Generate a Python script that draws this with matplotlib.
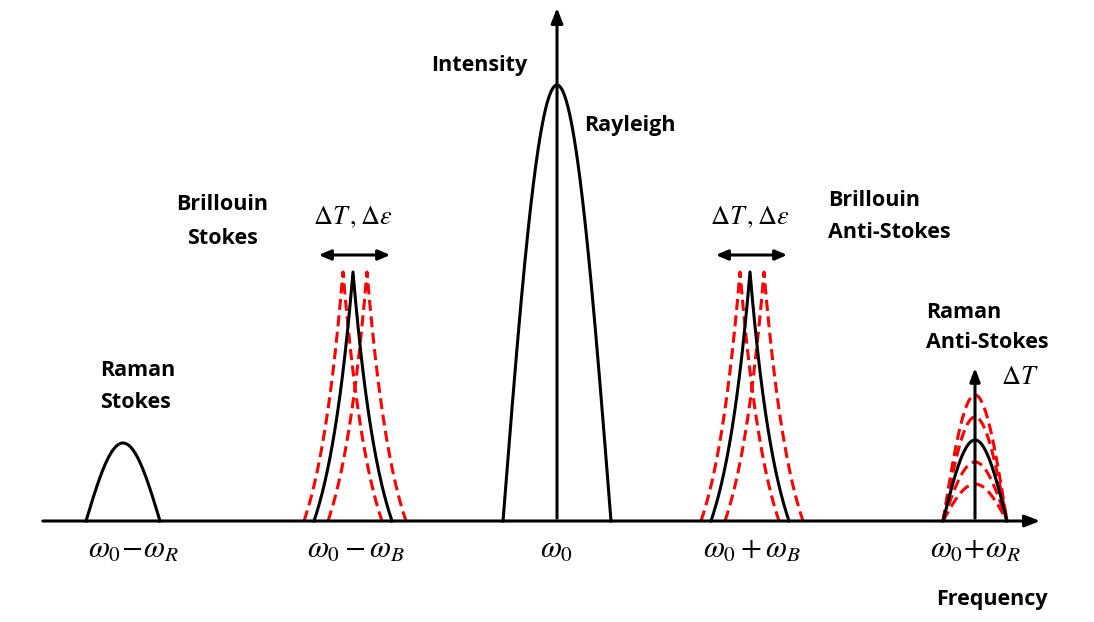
import numpy as np
import matplotlib.pyplot as plt

plt.rcParams['mathtext.fontset'] = 'stix'
plt.rcParams['font.family'] = ['Open Sans', 'DejaVu Sans']

# peak positions (frequency axis, arbitrary units) and intensities
raman_s = dict(c=123, half=37, h=78)
rayleigh = dict(c=557, half=54, h=436)
brill_centers = [353, 750]
brill_shift = [-10, 14]          # red dashed curves, shifted peaks
brill_half = 39
brill_height = 249
raman_as_center = 975
raman_as_half = 32
raman_as_height = 81
raman_as_red = [126, 104, 59, 37]

tick_pos = [133, 356, 557, 752, 975]
tick_labels = [r'$\omega_0\!-\!\omega_R$', r'$\omega_0 - \omega_B$', r'$\omega_0$',
               r'$\omega_0 + \omega_B$', r'$\omega_0\!+\!\omega_R$']


def cos_peak(c, half, h):
    x = np.linspace(c - half, c + half, 200)
    return x, h * np.cos(np.pi / 2 * (x - c) / half)


def cusp_peak(c, half, h, s=0.72):
    x = np.linspace(c - half, c + half, 301)
    u = np.abs(x - c) / half
    f = (np.exp(-u / s) - np.exp(-1 / s)) / (1 - np.exp(-1 / s))
    return x, h * f


fig = plt.figure(figsize=(10.94, 6.22), dpi=100)
ax = fig.add_axes([0, 0, 1, 1])
ax.set_xlim(0, 1094)
ax.set_ylim(-101, 521)
ax.axis('off')

lw = 2.2
dash = (0, (3.6, 1.8))
# axes with arrows
ax.annotate('', xy=(1043, 0), xytext=(40, 0),
            arrowprops=dict(arrowstyle='-|>,head_length=0.9,head_width=0.35', color='black', lw=lw))
ax.annotate('', xy=(557, 516), xytext=(557, 0),
            arrowprops=dict(arrowstyle='-|>,head_length=0.9,head_width=0.35', color='black', lw=lw))

# Raman Stokes
ax.plot(*cos_peak(**raman_s), color='black', lw=lw)
# Rayleigh
ax.plot(*cos_peak(**rayleigh), color='black', lw=lw)

# Brillouin peaks
for c in brill_centers:
    for s in brill_shift:
        ax.plot(*cusp_peak(c + s, brill_half, brill_height), color='red', lw=lw, ls=dash)
    ax.plot(*cusp_peak(c, brill_half, brill_height), color='black', lw=lw)
    ax.annotate('', xy=(c + 40, 266), xytext=(c - 37, 266),
                arrowprops=dict(arrowstyle='<|-|>,head_length=0.7,head_width=0.3', color='black', lw=lw))
    ax.text(c, 303, r'$\Delta T\,,\Delta\varepsilon$', fontsize=19, ha='center', va='center')

# Raman anti-Stokes
for h in raman_as_red:
    ax.plot(*cos_peak(raman_as_center, raman_as_half, h), color='red', lw=lw, ls=dash)
ax.plot(*cos_peak(raman_as_center, raman_as_half, raman_as_height), color='black', lw=lw)
ax.annotate('', xy=(raman_as_center, 156), xytext=(raman_as_center, 0),
            arrowprops=dict(arrowstyle='-|>,head_length=0.8,head_width=0.3', color='black', lw=lw))
ax.text(1020, 144, r'$\Delta T$', fontsize=19, ha='center', va='center')

# tick labels
for p, t in zip(tick_pos, tick_labels):
    ax.text(p, -29, t, fontsize=22, ha='center', va='center')

# labels
bold = dict(fontsize=15.5, fontweight='bold', va='center')
ax.text(479, 455, 'Intensity', ha='center', **bold)
ax.text(630, 395, 'Rayleigh', ha='center', **bold)
ax.text(222, 316, 'Brillouin', ha='center', **bold)
ax.text(222, 283, 'Stokes', ha='center', **bold)
ax.text(828, 320, 'Brillouin', ha='left', **bold)
ax.text(828, 288, 'Anti-Stokes', ha='left', **bold)
ax.text(100, 151, 'Raman', ha='left', **bold)
ax.text(100, 119, 'Stokes', ha='left', **bold)
ax.text(926, 209, 'Raman', ha='left', **bold)
ax.text(926, 178, 'Anti-Stokes', ha='left', **bold)
ax.text(992, -79, 'Frequency', ha='center', **bold)

plt.savefig('out.png', dpi=100)
